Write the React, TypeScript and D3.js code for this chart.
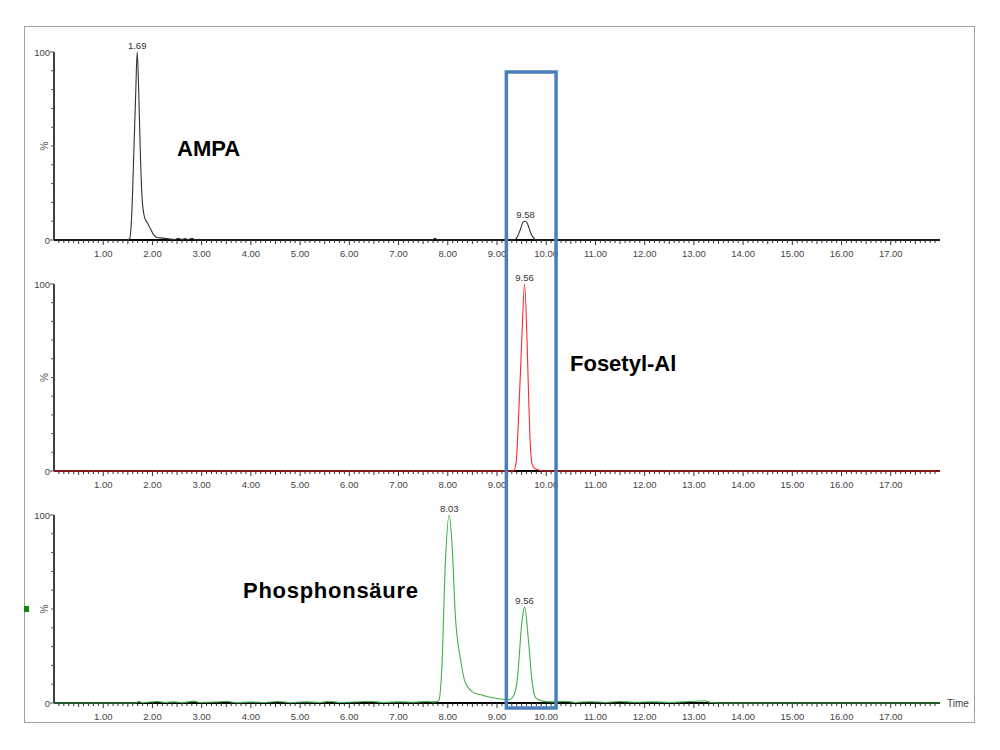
import { useEffect, useRef } from 'react';
import * as d3 from 'd3';

// traces: [time (min), intensity (%)]
const ampaTrace: [number, number][] = [
  [0, 0], [1.5, 0], [1.54, 1], [1.58, 14], [1.62, 45], [1.66, 78], [1.69, 100], [1.72, 80],
  [1.75, 50], [1.79, 22], [1.84, 12], [1.9, 9], [1.96, 6], [2.02, 3], [2.08, 1.5], [2.2, 1],
  [2.35, 0.5], [2.45, 0.3], [2.52, 0.9], [2.6, 0.3], [2.66, 0.8], [2.72, 0.2], [2.8, 0.9],
  [2.88, 0], [7.68, 0], [7.74, 0.9], [7.8, 0], [9.34, 0], [9.42, 2], [9.48, 6], [9.53, 9.5],
  [9.58, 10], [9.63, 8], [9.68, 4], [9.73, 1.5], [9.8, 0], [18, 0],
];

const fosetylTrace: [number, number][] = [
  [0, 0], [9.34, 0], [9.39, 5], [9.44, 30], [9.5, 68], [9.56, 100], [9.61, 70], [9.64, 42],
  [9.67, 18], [9.71, 4], [9.76, 1.5], [9.85, 0.5], [9.95, 0], [18, 0],
];

const phosphonTrace: [number, number][] = [
  [0, 0], [1.65, 0], [1.72, 0.8], [1.8, 0.2], [1.95, 0.5], [2.1, 0.8], [2.25, 0.3], [2.45, 0.6],
  [2.6, 0.2], [2.85, 1], [2.95, 0.3], [3.3, 0.5], [3.5, 0.9], [3.7, 0.2], [4.0, 0.5], [4.3, 0.3],
  [4.55, 0.8], [4.8, 0.2], [5.1, 0.6], [5.4, 0.3], [5.6, 0.9], [5.8, 0.3], [6.1, 0.5], [6.4, 0.9],
  [6.7, 0.3], [7.0, 0.6], [7.3, 0.4], [7.55, 0.8], [7.75, 0.6], [7.82, 1.5], [7.88, 19], [7.95, 74],
  [8.03, 100], [8.09, 83], [8.15, 48], [8.26, 23], [8.36, 10.6], [8.56, 5], [8.66, 4.5], [8.76, 3.7],
  [8.97, 2.5], [9.1, 2], [9.24, 1.8], [9.34, 4], [9.41, 12], [9.51, 44], [9.56, 51], [9.64, 33],
  [9.71, 12], [9.78, 3], [9.91, 1], [10.1, 0.6], [10.4, 0.9], [10.6, 0.3], [10.9, 0.7], [11.2, 0.3],
  [11.5, 0.8], [11.8, 0.4], [12.2, 0.6], [12.5, 0.3], [12.9, 0.8], [13.2, 1.2], [13.35, 0.3],
  [13.6, 0], [18, 0],
];

// labelled peaks: [time, height]
const ampaPeaks: [number, number][] = [[1.69, 100], [9.58, 10]];
const fosetylPeaks: [number, number][] = [[9.56, 100]];
const phosphonPeaks: [number, number][] = [[8.03, 100], [9.56, 51]];

const compoundNames = ['AMPA', 'Fosetyl-Al', 'Phosphonsäure'];
const traceColors = ['#333333', '#ff2a2a', '#3fae46'];
const xTickValues = d3.range(1, 18);
const yTickLabels = ['0', '100'];
const highlightRange = [9.19, 10.2];

export default function App() {
  const svgRef = useRef<SVGSVGElement>(null);

  useEffect(() => {
    if (!svgRef.current) return;
    const svg = d3.select(svgRef.current);
    svg.selectAll('*').remove();

    const font = '"Liberation Sans", Arial, sans-serif';
    const x = d3.scaleLinear().domain([0, 18]).range([54, 940]);

    const panels = [
      { trace: ampaTrace, peaks: ampaPeaks, top: 52, bottom: 240, label: [177, 156] },
      { trace: fosetylTrace, peaks: fosetylPeaks, top: 284, bottom: 471, label: [570, 371] },
      { trace: phosphonTrace, peaks: phosphonPeaks, top: 515, bottom: 703, label: [243, 598] },
    ];

    // outer frame
    svg.append('rect')
      .attr('x', 24.5).attr('y', 26.5)
      .attr('width', 950).attr('height', 696)
      .attr('fill', '#fff')
      .attr('stroke', '#a0a0a0');

    panels.forEach((p, i) => {
      const y = d3.scaleLinear().domain([0, 100]).range([p.bottom, p.top]);
      const g = svg.append('g');

      // y axis
      g.append('line')
        .attr('x1', x(0)).attr('x2', x(0))
        .attr('y1', y(0)).attr('y2', y(100))
        .attr('stroke', '#000').attr('stroke-width', 1.5);
      d3.range(0, 101, 10).forEach(v => {
        g.append('line')
          .attr('x1', x(0) - (v % 100 === 0 ? 4 : 3)).attr('x2', x(0))
          .attr('y1', y(v)).attr('y2', y(v))
          .attr('stroke', '#555').attr('stroke-width', 1);
      });
      yTickLabels.forEach(t => {
        g.append('text')
          .attr('x', x(0) - 4).attr('y', y(+t) + 3.5)
          .attr('text-anchor', 'end')
          .attr('font-family', font).attr('font-size', 9.5)
          .attr('fill', '#444')
          .text(t);
      });
      g.append('text')
        .attr('transform', `translate(${x(0) - 6},${y(50)}) rotate(-90)`)
        .attr('text-anchor', 'middle')
        .attr('font-family', font).attr('font-size', 10)
        .attr('fill', '#555')
        .text('%');

      // x axis
      g.append('line')
        .attr('x1', x(0)).attr('x2', x(18))
        .attr('y1', y(0)).attr('y2', y(0))
        .attr('stroke', '#000').attr('stroke-width', 2);
      d3.range(1, 180).forEach(k => {
        const len = k % 10 === 0 ? 5 : k % 5 === 0 ? 4 : 3;
        g.append('line')
          .attr('x1', x(k / 10)).attr('x2', x(k / 10))
          .attr('y1', y(0)).attr('y2', y(0) + len)
          .attr('stroke', '#333').attr('stroke-width', 1);
      });
      xTickValues.forEach(t => {
        g.append('text')
          .attr('x', x(t)).attr('y', y(0) + 17)
          .attr('text-anchor', 'middle')
          .attr('font-family', font).attr('font-size', 9.5)
          .attr('fill', '#444')
          .text(t.toFixed(2));
      });

      // trace
      const line = d3.line<[number, number]>()
        .x(d => x(d[0]))
        .y(d => y(d[1]))
        .curve(d3.curveMonotoneX);
      g.append('path')
        .datum(p.trace)
        .attr('d', line)
        .attr('fill', 'none')
        .attr('stroke', traceColors[i])
        .attr('stroke-width', 1.1);

      // peak labels
      p.peaks.forEach(([t, v]) => {
        g.append('text')
          .attr('x', x(t)).attr('y', y(v) - 3)
          .attr('text-anchor', 'middle')
          .attr('font-family', font).attr('font-size', 9.5)
          .attr('fill', '#333')
          .text(t.toFixed(2));
      });

      // compound name
      g.append('text')
        .attr('x', p.label[0]).attr('y', p.label[1])
        .attr('font-family', font).attr('font-size', 22)
        .attr('font-weight', 'bold')
        .attr('fill', '#000')
        .attr('textLength', i === 2 ? 175 : null)
        .text(compoundNames[i]);
    });

    // "Time" label
    svg.append('text')
      .attr('x', x(18) + 7).attr('y', 707)
      .attr('font-family', font).attr('font-size', 10)
      .attr('fill', '#444')
      .text('Time');

    // small green marker at left
    svg.append('rect')
      .attr('x', 24).attr('y', 606)
      .attr('width', 5).attr('height', 6)
      .attr('fill', '#0a8a0a');

    // highlight box around the 9.56 min window
    const boxTop = panels[0].top + 20;
    const boxBottom = panels[2].bottom + 5;
    svg.append('rect')
      .attr('x', x(highlightRange[0])).attr('y', boxTop)
      .attr('width', x(highlightRange[1]) - x(highlightRange[0]))
      .attr('height', boxBottom - boxTop)
      .attr('fill', 'none')
      .attr('stroke', '#4a7fbc')
      .attr('stroke-width', 3.5);
  }, []);

  return (
    <svg
      ref={svgRef}
      width={1000}
      height={750}
      style={{ position: 'absolute', left: 0, top: 0, background: '#fff' }}
    />
  );
}
